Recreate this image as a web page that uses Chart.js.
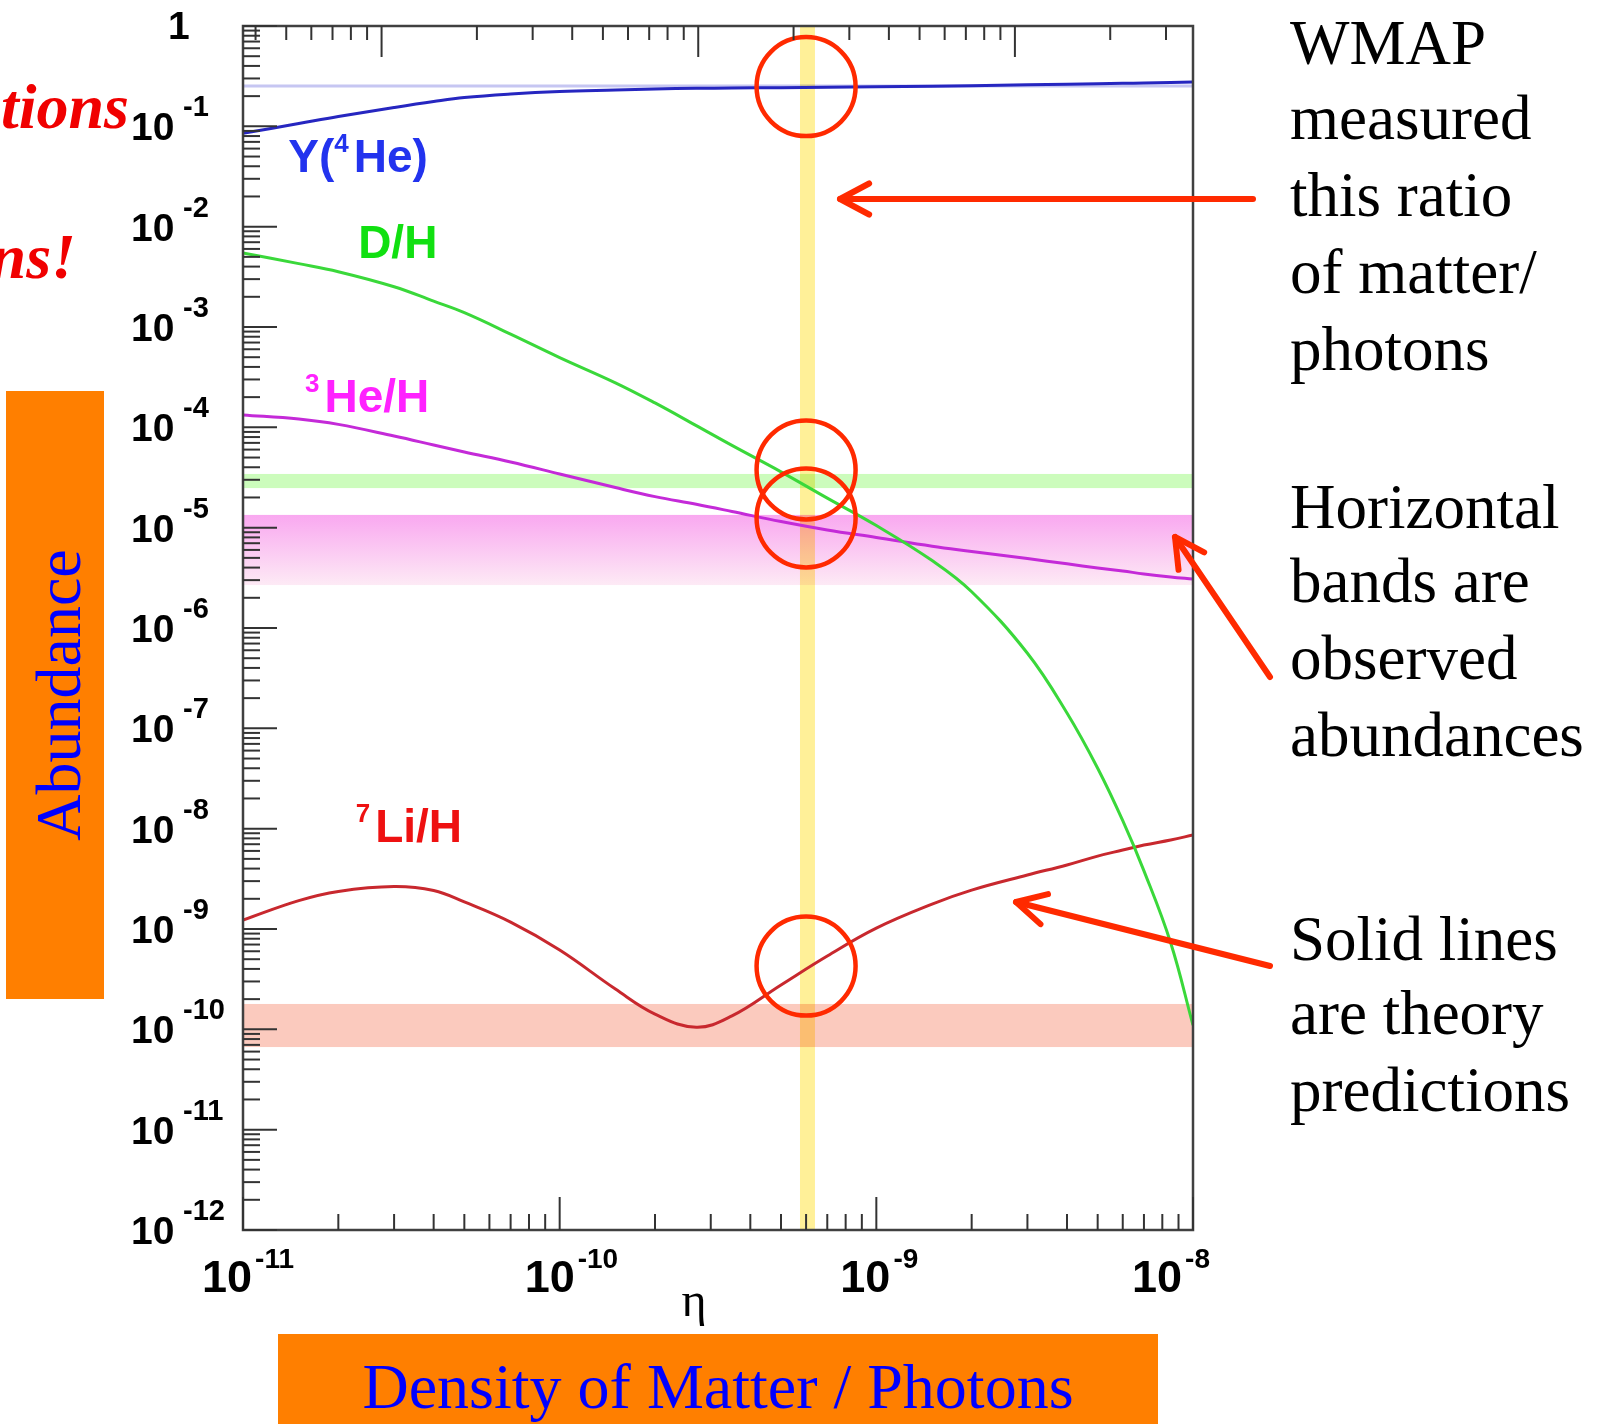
<!DOCTYPE html>
<html><head><meta charset="utf-8">
<script src="https://cdn.jsdelivr.net/npm/chart.js@4/dist/chart.umd.min.js"></script>
<style>html,body{margin:0;padding:0;background:#fff;overflow:hidden}canvas{display:block}</style>
</head><body>
<canvas id="c" width="1606" height="1424"></canvas>
<script>
// ---- data ----
const eta  = [1e-11,1.5e-11,2e-11,3e-11,4e-11,5e-11,7e-11,1e-10,1.5e-10,2e-10,2.7e-10,3.5e-10,5e-10,7e-10,1e-9,1.5e-9,2e-9,3e-9,4e-9,5e-9,6e-9,7e-9,8.5e-9,1e-8];
const yHe4 = [0.0852,0.1067,0.1253,0.1541,0.1768,0.1938,0.2101,0.2224,0.2302,0.2355,0.2393,0.2410,0.2427,0.2449,0.2477,0.2512,0.2541,0.2594,0.2630,0.2660,0.2685,0.2704,0.2735,0.2767];
const yD   = [5.46e-3,4.28e-3,3.56e-3,2.52e-3,1.81e-3,1.39e-3,8.50e-4,4.96e-4,2.78e-4,1.75e-4,1.04e-4,6.60e-5,3.60e-5,1.97e-5,1.05e-5,4.70e-6,2.30e-6,5.60e-7,1.42e-7,4.00e-8,1.20e-8,3.80e-9,7.30e-10,1.10e-10];
const yHe3 = [1.33e-4,1.21e-4,1.07e-4,8.19e-5,6.67e-5,5.68e-5,4.51e-5,3.43e-5,2.51e-5,2.04e-5,1.71e-5,1.45e-5,1.15e-5,9.48e-6,7.98e-6,6.53e-6,5.80e-6,4.92e-6,4.36e-6,3.97e-6,3.70e-6,3.46e-6,3.23e-6,3.08e-6];
const yLi7 = [1.23e-9,1.92e-9,2.37e-9,2.65e-9,2.42e-9,1.86e-9,1.17e-9,6.17e-10,2.52e-10,1.42e-10,1.05e-10,1.36e-10,2.77e-10,5.38e-10,1.02e-9,1.77e-9,2.44e-9,3.45e-9,4.35e-9,5.33e-9,6.12e-9,6.87e-9,7.71e-9,8.65e-9];

const bandD     = [2.48e-5, 3.43e-5];
const bandHe3   = [2.68e-6, 1.34e-5];
const bandLi7   = [6.66e-11, 1.79e-10];
const lineHe4Obs = 0.252;
const wmapBand  = [5.74e-10, 6.40e-10];
const circleEta = 6.0e-10;
const circleVals = [0.249, 3.76e-5, 1.25e-5, 4.27e-10];

const yTickExps = [0,-1,-2,-3,-4,-5,-6,-7,-8,-9,-10,-11,-12];
const xTickExps = [-11,-10,-9,-8];
const xLabelShift = [-41,-35,-36,-61];
const topMajor = [1e-3, 1e-2, 1e-1];
const etaPerOmega = 2.739e-8;

const seriesLabels = [
  {parts:[['Y(',0],['4',1],['He)',0]], color:'#2233ee', eta:1.39e-11, val:0.0351},
  {parts:[['D/H',0]], color:'#11e011', eta:2.31e-11, val:4.87e-3},
  {parts:[['3',1],['He/H',0]], color:'#ff22ff', eta:1.57e-11, val:1.42e-4},
  {parts:[['7',1],['Li/H',0]], color:'#ee1111', eta:2.27e-11, val:7.36e-9}
];
const noteLines = [
  ['WMAP',64],['measured',139],['this ratio',216],['of matter/',293],['photons',370],
  ['Horizontal',528],['bands are',602],['observed',679],['abundances',756],
  ['Solid lines',960],['are theory',1034],['predictions',1111]
];

function pts(arr){ return eta.map((e,i)=>({x:e, y:arr[i]})); }

const SANS = '"Liberation Sans", Arial, Helvetica, sans-serif';
const SERIF = '"Liberation Serif", "Times New Roman", serif';
const RED = '#ff2a00';

function drawParts(ctx, parts, x, y, mainFont, supFont, rise, gap){
  for (const [t, s] of parts){
    ctx.font = s ? supFont : mainFont;
    ctx.fillText(t, x, s ? y - rise : y);
    x += ctx.measureText(t).width + (s ? gap : 0);
  }
}

function arrow(ctx, x1, y1, x2, y2){
  ctx.beginPath(); ctx.moveTo(x1,y1); ctx.lineTo(x2,y2); ctx.stroke();
  const a = Math.atan2(y1-y2, x1-x2), L = 33, h = 28*Math.PI/180;
  ctx.beginPath();
  ctx.moveTo(x2 + L*Math.cos(a+h), y2 + L*Math.sin(a+h));
  ctx.lineTo(x2, y2);
  ctx.lineTo(x2 + L*Math.cos(a-h), y2 + L*Math.sin(a-h));
  ctx.stroke();
}

const decor = {
  id: 'decor',
  beforeDatasetsDraw(chart){
    const ctx = chart.ctx, ca = chart.chartArea, xs = chart.scales.x, ys = chart.scales.y;
    ctx.save();
    ctx.beginPath(); ctx.rect(ca.left, ca.top, ca.right-ca.left, ca.bottom-ca.top); ctx.clip();
    const W = ca.right - ca.left;
    let t = ys.getPixelForValue(bandD[1]), b = ys.getPixelForValue(bandD[0]);
    ctx.fillStyle = '#ccfcbc'; ctx.fillRect(ca.left, t, W, b-t);
    t = ys.getPixelForValue(bandHe3[1]); b = ys.getPixelForValue(bandHe3[0]);
    const g = ctx.createLinearGradient(0, t, 0, b);
    g.addColorStop(0, 'rgb(249,168,240)'); g.addColorStop(1, 'rgb(253,234,245)');
    ctx.fillStyle = g; ctx.fillRect(ca.left, t, W, b-t);
    t = ys.getPixelForValue(bandLi7[1]); b = ys.getPixelForValue(bandLi7[0]);
    ctx.fillStyle = '#fbcabe'; ctx.fillRect(ca.left, t, W, b-t);
    const yh = ys.getPixelForValue(lineHe4Obs);
    ctx.strokeStyle = '#c6c6f2'; ctx.lineWidth = 3;
    ctx.beginPath(); ctx.moveTo(ca.left, yh); ctx.lineTo(ca.right, yh); ctx.stroke();
    const l = xs.getPixelForValue(wmapBand[0]), r = xs.getPixelForValue(wmapBand[1]);
    ctx.globalCompositeOperation = 'multiply';
    ctx.fillStyle = '#fff098'; ctx.fillRect(l, ca.top, r-l, ca.bottom-ca.top);
    ctx.restore();
  },
  afterDatasetsDraw(chart){
    const ctx = chart.ctx, ca = chart.chartArea, xs = chart.scales.x, ys = chart.scales.y, xt = chart.scales.x2;
    ctx.save();
    ctx.strokeStyle = RED; ctx.lineWidth = 4.5;
    const cx = xs.getPixelForValue(circleEta);
    for (const v of circleVals){
      ctx.beginPath(); ctx.arc(cx, ys.getPixelForValue(v), 49.5, 0, Math.PI*2); ctx.stroke();
    }
    ctx.strokeStyle = '#404040'; ctx.lineWidth = 2.5;
    ctx.strokeRect(ca.left, ca.top, ca.right-ca.left, ca.bottom-ca.top);
    ctx.strokeStyle = '#333'; ctx.lineWidth = 2;
    const line = (x1,y1,x2,y2)=>{ctx.beginPath();ctx.moveTo(x1,y1);ctx.lineTo(x2,y2);ctx.stroke();};
    for (const e of yTickExps){
      const y = ys.getPixelForValue(Math.pow(10,e));
      line(ca.left, y, ca.left+34, y);
      if (e < 0) for (let m=2;m<=9;m++){ const yy = ys.getPixelForValue(m*Math.pow(10,e)); line(ca.left, yy, ca.left+17, yy); }
    }
    for (const e of xTickExps){
      const x = xs.getPixelForValue(Math.pow(10,e));
      line(x, ca.bottom, x, ca.bottom-33);
      if (e < -8) for (let m=2;m<=9;m++){ const xx = xs.getPixelForValue(m*Math.pow(10,e)); line(xx, ca.bottom, xx, ca.bottom-16); }
    }
    for (const v of topMajor){ const x = xt.getPixelForValue(v); line(x, ca.top, x, ca.top+31); }
    for (let e=-4;e<=-1;e++) for (let m=2;m<=9;m++){
      const v = m*Math.pow(10,e);
      if (v < xt.min || v > xt.max) continue;
      const x = xt.getPixelForValue(v); line(x, ca.top, x, ca.top+14);
    }
    ctx.fillStyle = '#000'; ctx.textBaseline = 'alphabetic'; ctx.textAlign = 'left';
    for (const e of yTickExps){
      const y = ys.getPixelForValue(Math.pow(10,e));
      if (e === 0){ ctx.font = 'bold 39px '+SANS; ctx.fillText('1', 168, y+13); continue; }
      ctx.font = 'bold 39px '+SANS; ctx.fillText('10', 131, y+14);
      ctx.font = 'bold 29px '+SANS; ctx.fillText('-'+(-e), 183, y-10);
    }
    xTickExps.forEach((e,i)=>{
      const x = xs.getPixelForValue(Math.pow(10,e)) + xLabelShift[i];
      ctx.font = 'bold 45px '+SANS; ctx.fillText('10', x, ca.bottom+62);
      const w = ctx.measureText('10').width;
      ctx.font = 'bold 28px '+SANS; ctx.fillText('-'+(-e), x+w+3, ca.bottom+38);
    });
    ctx.font = '48px '+SERIF; ctx.textAlign = 'center';
    ctx.fillText('\u03b7', (ca.left+ca.right)/2 - 24, ca.bottom+86);
    ctx.textAlign = 'left';
    for (const s of seriesLabels){
      ctx.fillStyle = s.color;
      drawParts(ctx, s.parts, xs.getPixelForValue(s.eta), ys.getPixelForValue(s.val), 'bold 46px '+SANS, 'bold 26px '+SANS, 20, 5);
    }
    ctx.restore();
  },
  afterDraw(chart){
    const ctx = chart.ctx;
    ctx.save();
    ctx.fillStyle = '#ff7f00';
    ctx.fillRect(6, 391, 98, 608);
    ctx.fillRect(278, 1334, 880, 90);
    ctx.fillStyle = '#0000ff'; ctx.font = '64px '+SERIF; ctx.textBaseline = 'alphabetic';
    ctx.textAlign = 'center';
    ctx.fillText('Density of Matter / Photons', 718, 1408);
    ctx.save(); ctx.translate(80, 695); ctx.rotate(-Math.PI/2); ctx.fillText('Abundance', 0, 0); ctx.restore();
    ctx.fillStyle = '#f00000'; ctx.font = 'bold italic 64px '+SERIF; ctx.textAlign = 'right';
    ctx.fillText('tions', 129, 128);
    ctx.fillText('ns!', 76, 278);
    ctx.fillStyle = '#000'; ctx.font = '63px '+SERIF; ctx.textAlign = 'left';
    for (const [t,y] of noteLines) ctx.fillText(t, 1290, y);
    ctx.strokeStyle = RED; ctx.lineWidth = 6; ctx.lineCap = 'round'; ctx.lineJoin = 'round';
    arrow(ctx, 1253, 199, 840, 199);
    arrow(ctx, 1270, 677, 1175, 537);
    arrow(ctx, 1270, 966, 1016, 902);
    ctx.restore();
  }
};

const mk = (label, arr, color) => ({label, data: pts(arr), borderColor: color, borderWidth: 3, pointRadius: 0, fill: false, tension: 0.4});

new Chart(document.getElementById('c'), {
  type: 'line',
  data: { datasets: [
    mk('Y(4He)', yHe4, '#2626c0'),
    mk('D/H', yD, '#3ad83a'),
    mk('3He/H', yHe3, '#c42ad8'),
    mk('7Li/H', yLi7, '#c8282e')
  ]},
  options: {
    responsive: false, animation: false, devicePixelRatio: 1,
    layout: { padding: { left: 243, top: 26, right: 413, bottom: 194 } },
    plugins: { legend: { display: false }, tooltip: { enabled: false } },
    scales: {
      x: { type: 'logarithmic', min: 1e-11, max: 1e-8, display: false },
      x2: { type: 'logarithmic', axis: 'x', position: 'top', min: 1e-11/etaPerOmega, max: 1e-8/etaPerOmega, display: false },
      y: { type: 'logarithmic', min: 1e-12, max: 1, display: false }
    }
  },
  plugins: [decor]
});
</script>
</body></html>
